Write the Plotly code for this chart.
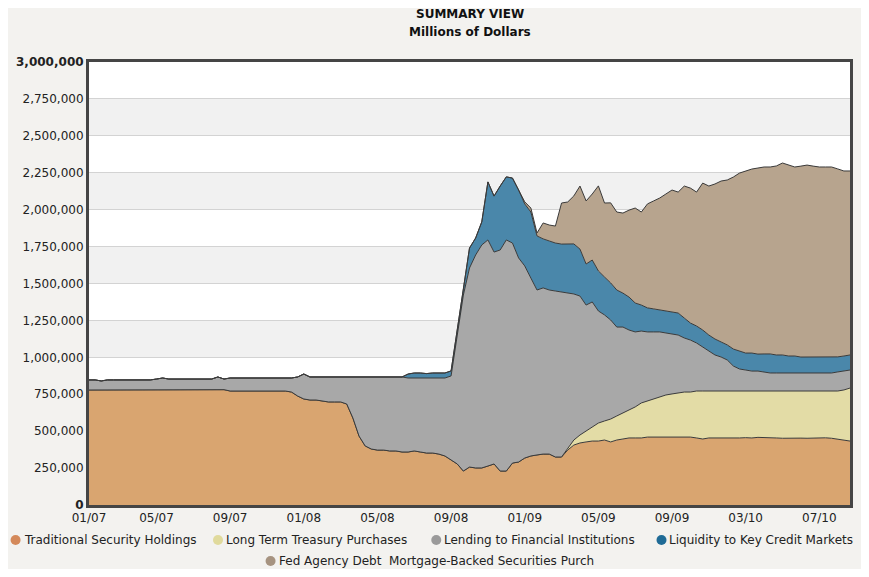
import plotly.graph_objects as go
import numpy as np

# weekly points, values in thousands of millions of dollars
tick_pos = [0, 11, 23, 35, 47, 59, 71, 83, 95, 107, 119]
tick_labels = ['01/07', '05/07', '09/07', '01/08', '05/08', '09/08',
               '01/09', '05/09', '09/09', '03/10', '07/10']

traditional = [
    779, 779, 779, 779, 779, 779, 779, 779, 779, 779,
    779, 781, 781, 781, 781, 781, 781, 781, 781, 781,
    781, 781, 781, 772, 772, 772, 772, 772, 772, 772,
    772, 772, 772, 765, 738, 718, 711, 711, 704, 698,
    698, 698, 684, 589, 467, 400, 379, 372, 372, 366,
    366, 359, 359, 366, 359, 352, 352, 345, 332, 305,
    278, 230, 257, 251, 251, 264, 278, 230, 230, 284,
    291, 318, 332, 339, 345, 345, 325, 325, 372, 406,
    420, 427, 433, 433, 440, 427, 440, 447, 454, 454,
    454, 460, 460, 460, 460, 460, 460, 460, 460, 454,
    447, 454, 454, 452, 454, 450, 454, 456, 454, 458,
    455, 453, 454, 452, 454, 455, 453, 452, 454, 456,
    455, 452, 447, 440, 433,
]

treasury = [0] * 78 + [
    7, 34,
    54, 74, 95, 122, 129, 155, 163, 176, 189, 210,
    237, 244, 258, 271, 285, 292, 298, 305, 305, 318,
    325, 318, 318, 320, 318, 322, 318, 316, 318, 314,
    317, 319, 318, 320, 318, 317, 319, 320, 318, 316,
    317, 320, 325, 339, 359,
]

lending = [
    68, 68, 61, 68, 68, 68, 68, 68, 68, 68,
    68, 72, 79, 72, 72, 72, 72, 72, 72, 72,
    72, 86, 72, 88, 88, 88, 88, 88, 88, 88,
    88, 88, 88, 95, 129, 169, 156, 156, 163, 169,
    169, 169, 183, 278, 400, 467, 488, 495, 495, 501,
    501, 508, 501, 494, 501, 508, 508, 515, 528, 569,
    873, 1192, 1348, 1442, 1510, 1531, 1435, 1497, 1565, 1490,
    1382, 1301, 1205, 1117, 1125, 1111, 1124, 1117, 1057, 989,
    941, 853, 847, 759, 718, 671, 602, 582, 542, 508,
    487, 468, 454, 441, 420, 406, 393, 366, 352, 325,
    298, 271, 244, 230, 210, 169, 149, 142, 135, 135,
    129, 122, 122, 122, 122, 122, 122, 122, 122, 122,
    122, 122, 129, 128, 122,
]

liquidity = [0] * 50 + [
    0, 0, 27, 34, 34, 30, 34, 34, 34, 34,
    34, 41, 135, 115, 156, 393, 379, 433, 427, 440,
    460, 420, 447, 366, 332, 332, 325, 325, 332, 339,
    318, 278, 284, 271, 257, 251, 251, 230, 223, 196,
    176, 163, 156, 149, 149, 149, 149, 135, 115, 115,
    115, 108, 108, 102, 102, 115, 122, 115, 122, 115,
    122, 129, 122, 122, 115, 115, 108, 108, 108, 108,
    108, 108, 102, 102, 102,
]

agency_mbs = [0] * 70 + [
    0, 14, 27, 20, 108, 108, 115, 278, 284, 325,
    427, 427, 447, 576, 501, 542, 528, 542, 589, 643,
    630, 704, 731, 758, 792, 826, 819, 894, 914, 907,
    995, 1009, 1050, 1090, 1117, 1165, 1205, 1233, 1246, 1260,
    1266, 1266, 1280, 1300, 1293, 1280, 1293, 1300, 1293, 1287,
    1287, 1287, 1273, 1253, 1246,
]

names = ['Traditional Security Holdings', 'Long Term Treasury Purchases',
         'Lending to Financial Institutions', 'Liquidity to Key Credit Markets',
         'Fed Agency Debt  Mortgage-Backed Securities Purch']
series = [traditional, treasury, lending, liquidity, agency_mbs]
fill_colors = ['#d9a570', '#e3dca6', '#a8a8a8', '#4a87aa', '#b7a48e']
dot_colors = ['#d4895a', '#e0da9c', '#9a9a9a', '#1f6b96', '#a69380']

x = np.arange(len(traditional))
font = 'DejaVu Sans'

# figure is 853x561 so the page (with the 8px body margin) is 869x577
W, H = 853, 561
L, R, T, B = 78, 8, 54, 64
pw, ph = W - L - R, H - T - B


def px(fx):
    return (fx - L) / pw


def py(fy):
    return (H - B - fy) / ph


fig = go.Figure()

for name, vals, col in zip(names, series, fill_colors):
    fig.add_trace(go.Scatter(
        x=x, y=np.array(vals) * 1000, mode='lines', stackgroup='one',
        fillcolor=col, line=dict(color='#3a3a3a', width=1),
        showlegend=False, name=name,
        hovertemplate='%{y:,.0f}<extra>' + name + '</extra>'))

# alternating background bands
shapes = []
for lo in range(0, 3000000, 500000):
    shapes.append(dict(type='rect', xref='paper', yref='y', x0=0, x1=1,
                       y0=lo, y1=lo + 250000, fillcolor='#f1f1f1',
                       line=dict(width=0), layer='below'))

# legend: dots + labels laid out like the original (two rows)
leg_dot_x = [4, 208, 428, 655, 261]
leg_txt_x = [11, 215, 435, 662, 268]
leg_y = [532, 532, 532, 532, 553]
annotations = []
for name, col, dx, tx, ly in zip(names, dot_colors, leg_dot_x, leg_txt_x, leg_y):
    shapes.append(dict(type='circle', xref='paper', yref='paper',
                       xsizemode='pixel', ysizemode='pixel',
                       xanchor=px(dx), yanchor=py(ly),
                       x0=-5, x1=5, y0=-5, y1=5,
                       fillcolor=col, line=dict(width=0)))
    annotations.append(dict(text=name, xref='paper', yref='paper',
                            x=px(tx), y=py(ly), xanchor='left', yanchor='middle',
                            showarrow=False, borderpad=0,
                            font=dict(family=font, size=12, color='#222')))

annotations.append(dict(text='<b>SUMMARY VIEW</b>', xref='paper', yref='paper',
                        x=0.5, y=py(6), xanchor='center', yanchor='middle',
                        showarrow=False, font=dict(family=font, size=12, color='#111')))
annotations.append(dict(text='<b>Millions of Dollars</b>', xref='paper', yref='paper',
                        x=0.5, y=py(24), xanchor='center', yanchor='middle',
                        showarrow=False, font=dict(family=font, size=12, color='#111')))

yt = list(range(0, 3000001, 250000))
yt_text = ['{:,}'.format(v) for v in yt]
yt_text[0] = '<b>0</b>'
yt_text[-1] = '<b>3,000,000</b>'

fig.update_layout(
    width=W, height=H,
    margin=dict(l=L, r=R, t=T, b=B),
    paper_bgcolor='#f3f2ef', plot_bgcolor='#ffffff',
    font=dict(family=font, size=12, color='#222'),
    showlegend=False,
    shapes=shapes,
    annotations=annotations,
    xaxis=dict(range=[0, len(traditional) - 1], tickmode='array',
               tickvals=tick_pos, ticktext=tick_labels, showgrid=False,
               zeroline=False, showline=True, linecolor='#454545',
               linewidth=3, mirror=True, ticks='',
               tickfont=dict(family=font, size=12, color='#222')),
    yaxis=dict(range=[0, 3000000], tickmode='array', tickvals=yt,
               ticktext=yt_text, showgrid=True, gridcolor='#d3d3d3',
               gridwidth=1, zeroline=False, showline=True,
               linecolor='#454545', linewidth=3, mirror=True, ticks='',
               tickfont=dict(family=font, size=12, color='#222')),
)

fig.write_html('out.html')
